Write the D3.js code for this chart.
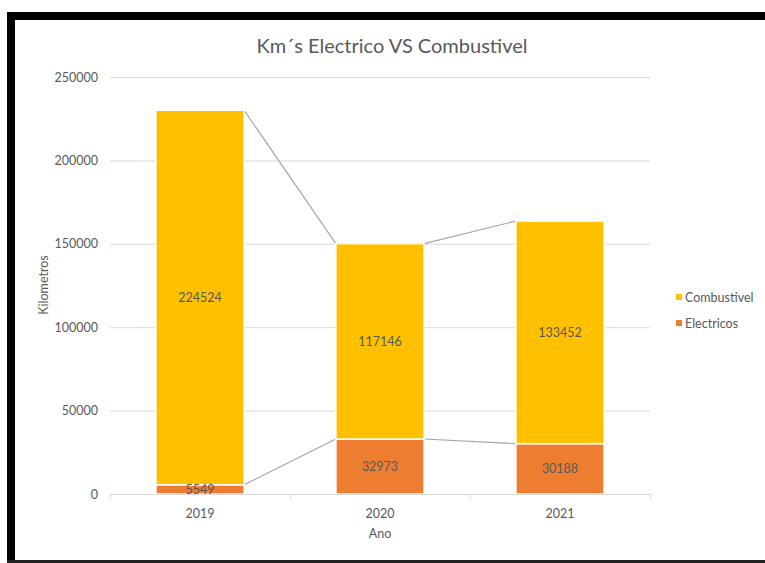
<!DOCTYPE html>
<html>
<head>
<meta charset="utf-8">
<script src="https://cdn.jsdelivr.net/npm/d3@7"></script>
<style>
  html, body { margin: 0; padding: 0; background: #fff; }
  svg { display: block; }
  text { font-family: Lato, "Open Sans", sans-serif; fill: #595959; }
</style>
</head>
<body>
<svg id="chart" width="765" height="563"></svg>
<script>
// Chart data
const years = ["2019", "2020", "2021"];
const combustivel = [224524, 117146, 133452];
const electricos = [5549, 32973, 30188];
const seriesNames = ["Electricos", "Combustivel"];
const seriesColors = ["#ED7D31", "#FFC000"];
const yTicks = [0, 50000, 100000, 150000, 200000, 250000];

const svg = d3.select("#chart");
const W = 765, H = 563;
const FS = 12.5;

// Frame around the chart
svg.append("rect").attr("x", 0).attr("y", 0).attr("width", W).attr("height", H).attr("fill", "#fff");
svg.append("rect").attr("x", 7).attr("y", 12).attr("width", W - 7).attr("height", 8).attr("fill", "#000");
svg.append("rect").attr("x", 7).attr("y", 12).attr("width", 8).attr("height", H - 12).attr("fill", "#000");
svg.append("rect").attr("x", 7).attr("y", 560).attr("width", W - 7).attr("height", 3).attr("fill", "#222");

const plot = { left: 110, right: 650, top: 77, bottom: 494 };

const x = d3.scaleBand().domain(years).range([plot.left, plot.right]).paddingInner(0.51).paddingOuter(0.255);
const y = d3.scaleLinear().domain([0, 250000]).range([plot.bottom, plot.top]);

// Gridlines
svg.append("g").selectAll("line").data(yTicks.filter(d => d > 0)).join("line")
  .attr("x1", plot.left).attr("x2", plot.right)
  .attr("y1", d => y(d) + 0.5).attr("y2", d => y(d) + 0.5)
  .attr("stroke", "#d9d9d9").attr("stroke-width", 1);

// Y tick labels
svg.append("g").selectAll("text").data(yTicks).join("text")
  .attr("x", 98).attr("y", d => y(d) + 4.5)
  .attr("text-anchor", "end").attr("font-size", FS).text(d => d);

// Stack the series
const rows = years.map((yr, i) => ({ year: yr, Electricos: electricos[i], Combustivel: combustivel[i] }));
const stacked = d3.stack().keys(seriesNames)(rows);

// Series lines joining the segment tops of neighbouring bars
const slG = svg.append("g");
stacked.forEach(layer => {
  for (let i = 0; i < layer.length - 1; i++) {
    slG.append("line")
      .attr("x1", x(years[i]) + x.bandwidth()).attr("y1", y(layer[i][1]))
      .attr("x2", x(years[i + 1])).attr("y2", y(layer[i + 1][1]))
      .attr("stroke", "#a6a6a6").attr("stroke-width", 1.2);
  }
});

// Bars
const barG = svg.append("g");
stacked.forEach((layer, si) => {
  barG.selectAll(null).data(layer).join("rect")
    .attr("x", (d, i) => x(years[i]))
    .attr("width", x.bandwidth())
    .attr("y", d => y(d[1]))
    .attr("height", d => y(d[0]) - y(d[1]))
    .attr("fill", seriesColors[si])
    .attr("stroke", "#fff").attr("stroke-width", 1.5);
});

// Value labels
stacked.forEach(layer => {
  svg.append("g").selectAll("text").data(layer).join("text")
    .attr("x", (d, i) => x(years[i]) + x.bandwidth() / 2)
    .attr("y", d => (y(d[0]) + y(d[1])) / 2 + 4.5)
    .attr("text-anchor", "middle").attr("font-size", FS)
    .text(d => d[1] - d[0]);
});

// X axis line and category separators
svg.append("line").attr("x1", plot.left).attr("x2", plot.right)
  .attr("y1", plot.bottom + 0.5).attr("y2", plot.bottom + 0.5)
  .attr("stroke", "#d9d9d9").attr("stroke-width", 1.2);
const step = x.step();
svg.append("g").selectAll("line").data(d3.range(years.length + 1)).join("line")
  .attr("x1", i => plot.left + i * step + 0.5).attr("x2", i => plot.left + i * step + 0.5)
  .attr("y1", plot.bottom).attr("y2", plot.bottom + 5)
  .attr("stroke", "#d9d9d9").attr("stroke-width", 1);

// Category labels
svg.append("g").selectAll("text").data(years).join("text")
  .attr("x", d => x(d) + x.bandwidth() / 2).attr("y", 518)
  .attr("text-anchor", "middle").attr("font-size", FS).text(d => d);

// Axis titles
svg.append("text").attr("x", 380).attr("y", 538).attr("text-anchor", "middle")
  .attr("font-size", FS).text("Ano");
svg.append("text").attr("transform", "translate(48,285) rotate(-90)")
  .attr("text-anchor", "middle").attr("font-size", FS).text("Kilometros");

// Title
svg.append("text").attr("x", 392).attr("y", 53).attr("text-anchor", "middle")
  .attr("font-size", 20).text("Km´s Electrico VS Combustivel");

// Legend
const legendItems = [
  { name: "Combustivel", color: seriesColors[1], y: 297 },
  { name: "Electricos", color: seriesColors[0], y: 323 }
];
const lg = svg.append("g").selectAll("g").data(legendItems).join("g");
lg.append("rect").attr("x", 676).attr("y", d => d.y - 3).attr("width", 6).attr("height", 6)
  .attr("fill", d => d.color);
lg.append("text").attr("x", 685).attr("y", d => d.y + 4.5).attr("font-size", FS).text(d => d.name);
</script>
</body>
</html>
